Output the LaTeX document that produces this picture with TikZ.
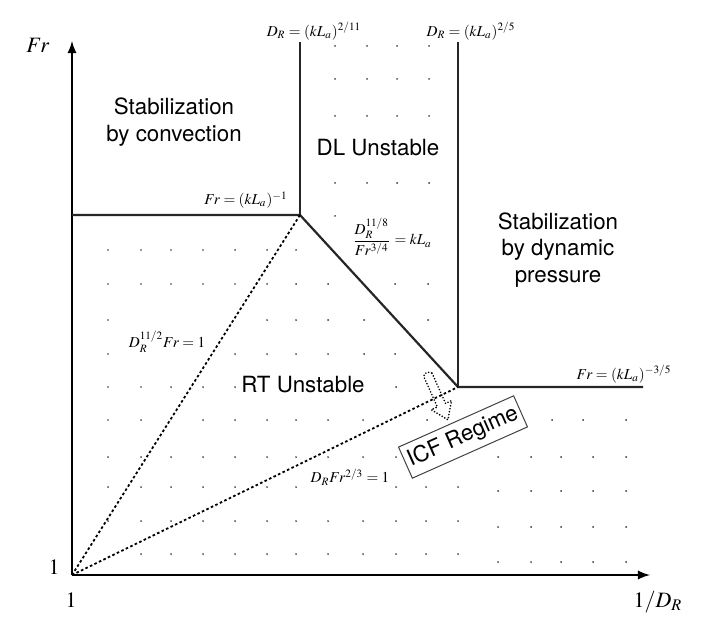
\documentclass[tikz,border=0pt]{standalone}
\usepackage{amsmath}
\usepackage{mathptmx}
\usepackage{fontspec}
\setsansfont{TeX Gyre Heros}
\usepackage{tikz}

\tikzset{
  region/.style={font=\sffamily\fontsize{11.2}{13.5}\selectfont, align=center, inner sep=0pt},
  eqlabel/.style={font=\fontsize{7.6}{9}\selectfont, inner sep=0pt},
  axislabel/.style={font=\fontsize{11}{13}\selectfont, inner sep=0pt},
  boundary/.style={line width=1.1pt, black!85},
  limitline/.style={line width=0.9pt, dash pattern=on 1.3pt off 1.2pt},
  icfbox/.style={draw=black!75, line width=0.5pt, minimum width=63bp, minimum height=17bp, inner sep=1pt, font=\sffamily\fontsize{11.2}{13.5}\selectfont},
  icfarrow/.style={line width=0.9pt, line cap=round, dash pattern=on 0pt off 1.5pt},
}

\begin{document}
\begin{tikzpicture}[x=0.5bp,y=-0.5bp]
	\useasboundingbox (0,0) rectangle (720,630);
	% axes
	\coordinate (O) at (72,575);
	\coordinate (y axis) at (72,41);
	\coordinate (x axis) at (650,575);
	\draw [-latex,line width=1.1pt] (O) -- (x axis);
	\draw [-latex,line width=1.1pt] (O) -- (y axis);
	\node[axislabel] (fr) at (38,45) {$Fr$};
	\node[axislabel] (one y) at (54,567) {$1$};
	\node[axislabel] (one x) at (71,600) {$1$};
	\node[axislabel] (inv dr) at (658,602) {$1/D_R$};
	% boundaries between the regions
	\coordinate (conv left) at (72,215);
	\coordinate (A) at (300,215);
	\coordinate (A top) at (300,42);
	\coordinate (B) at (458,387);
	\coordinate (B top) at (458,42);
	\coordinate (dyn right) at (643,387);
	\draw[boundary] (conv left) -- (A) -- (B) -- (dyn right);
	\draw[boundary] (A top) -- (A);
	\draw[boundary] (B top) -- (B);
	\draw[limitline] (O) -- (A);
	\draw[limitline] (O) -- (B);
	% dots of the unstable regions
	\foreach \yy/\xlist in {
		46/{335,367,397,429}, 79/{335,367,397,429}, 116/{335,367,397,429},
		183/{335,367,397,429}, 216/{335},
		250/{108,141,171,203,235,267,296},
		284/{108,141,171,203,235,267,296,328,395,428},
		320/{108,267,296,328,364,428},
		354/{108,235,267,296,328,364,395},
		387/{108,141,171,203,235,396},
		420/{108,141,203,235,267,296,328,363,427,552,583,626},
		457/{108,141,171,203,235,267,296,328,363,396,498,531,561,593,626},
		487/{108,141,171,203,235,267,296,396,426,458},
		491/{498,531,561,593,626},
		521/{108,141,171,203,235,267,296,328,363,396,426,458},
		527/{498,531,561,593,626},
		554/{141,171,203,235,267,296,328,363,396,426,458},
		562/{498,531,561,593,626}}
		\foreach \xx in \xlist
			\fill[black!80] (\xx,\yy) circle (0.5pt);
	% region names
	\node[region] (conv) at (174,122) {Stabilization\\by convection};
	\node[region] (dl) at (378,148) {DL Unstable};
	\node[region] (dyn) at (558,250) {Stabilization\\by dynamic\\pressure};
	\node[region] (rt) at (303,385) {RT Unstable};
	% equations of the boundaries
	\node[eqlabel] (eq a) at (314,31) {$D_R=(kL_a)^{2/11}$};
	\node[eqlabel] (eq b) at (471,31) {$D_R=(kL_a)^{2/5}$};
	\node[eqlabel] (eq c) at (246,200) {$Fr=(kL_a)^{-1}$};
	\node[eqlabel] (eq d) at (392,237) {$\dfrac{D_R^{11/8}}{Fr^{3/4}}=kL_a$};
	\node[eqlabel] (eq e) at (624,374) {$Fr=(kL_a)^{-3/5}$};
	\node[eqlabel] (eq f) at (167,342) {$D_R^{11/2}Fr=1$};
	\node[eqlabel] (eq g) at (350,477) {$D_RFr^{2/3}=1$};
	% ICF regime
	\node[icfbox, rotate=24] (icf) at (463,437) {ICF Regime};
	\draw[icfarrow] (432.1,373.2) -- (445.5,403.4) -- (451.5,400.7) -- (447.9,419.8)
		-- (431.3,409.7) -- (437.3,407.0) -- (423.9,376.8)
		.. controls (422.6,373.9) and (428.4,370.6) .. cycle;
\end{tikzpicture}
\end{document}
